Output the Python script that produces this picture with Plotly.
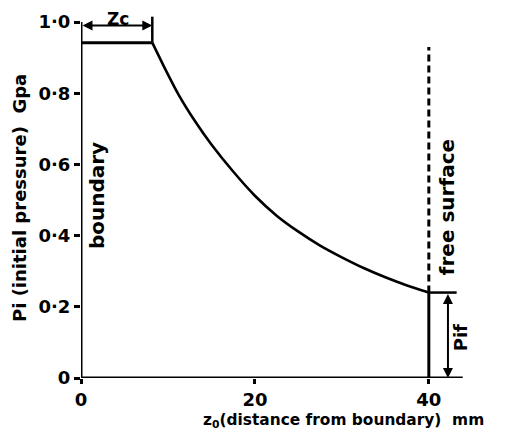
import plotly.graph_objects as go

# ---- data ----
zc = 8.2            # Zc, end of constant-pressure zone (mm)
p_flat = 0.942      # plateau pressure (GPa)
z_curve = [8.2, 9.6, 11.2, 13.1, 15.0, 17.5, 20.0, 22.5, 25.0, 27.5, 30.0,
           32.5, 35.0, 37.5, 40.0]
p_curve = [0.942, 0.872, 0.797, 0.722, 0.656, 0.580, 0.512, 0.456, 0.411, 0.372, 0.339,
           0.309, 0.283, 0.260, 0.240]
z_free = 40.0       # free surface position (mm)
p_if = 0.240        # Pif
free_top = 0.93     # top of dashed free-surface line
x_ticks = [0, 20, 40]
x_ticklabels = ["0", "20", "40"]
y_ticks = [0, 0.2, 0.4, 0.6, 0.8, 1.0]
y_ticklabels = ["0", "0·2", "0·4", "0·6", "0·8", "1·0"]

FONT = "DejaVu Sans"
K = "black"
XR = [0, 46]
YR = [0, 370 / 356]


def px(x):
    return (x - XR[0]) / (XR[1] - XR[0])


def py(y):
    return (y - YR[0]) / (YR[1] - YR[0])


fig = go.Figure()
fig.add_trace(go.Scatter(x=[0, zc], y=[p_flat, p_flat], mode="lines",
                         line=dict(color=K, width=3), hoverinfo="skip"))
fig.add_trace(go.Scatter(x=z_curve, y=p_curve, mode="lines",
                         line=dict(color=K, width=2.6, shape="spline", smoothing=0.6),
                         hoverinfo="skip"))
fig.add_trace(go.Scatter(x=[z_free, z_free], y=[0, p_if], mode="lines",
                         line=dict(color=K, width=3), hoverinfo="skip"))
fig.add_trace(go.Scatter(x=[z_free, z_free], y=[p_if, free_top], mode="lines",
                         line=dict(color=K, width=3, dash="7px,4px"), hoverinfo="skip"))

shapes = [
    dict(type="line", xref="x", yref="y", x0=0, x1=43.9, y0=0, y1=0,
         line=dict(color=K, width=3)),
    dict(type="line", xref="x", yref="y", x0=0, x1=0, y0=0, y1=1.0,
         line=dict(color=K, width=3)),
    dict(type="line", xref="x", yref="y", x0=zc, x1=zc, y0=p_flat, y1=1.015,
         line=dict(color=K, width=2.5)),
    dict(type="line", xref="x", yref="y", x0=z_free, x1=43.2, y0=p_if, y1=p_if,
         line=dict(color=K, width=2.5)),
]

tf = dict(family=FONT, size=18, color=K, weight="bold")
lf = dict(family=FONT, size=20, color=K, weight="bold")
C = dict(xanchor="center", yanchor="middle", showarrow=False,
         xref="paper", yref="paper")
annotations = [
    dict(x=zc, y=0.99, ax=0, ay=0.99, xref="x", yref="y", axref="x", ayref="y",
         showarrow=True, arrowhead=2, startarrowhead=2, arrowside="end+start",
         arrowwidth=2, arrowsize=1, arrowcolor=K, text=""),
    dict(x=px(4.2), y=1.0, text="Zc", xanchor="center", yanchor="top",
         showarrow=False, xref="paper", yref="paper", borderpad=0,
         font=dict(family=FONT, size=17, color=K, weight="bold")),
    dict(x=42.2, y=0, ax=42.2, ay=p_if, xref="x", yref="y", axref="x", ayref="y",
         showarrow=True, arrowhead=2, startarrowhead=2, arrowside="end+start",
         arrowwidth=2, arrowsize=1, arrowcolor=K, text=""),
    dict(x=px(43.6), y=py(0.112), text="Pif", textangle=-90, font=tf, **C),
    dict(x=px(1.84), y=py(0.511), text="boundary", textangle=-90, font=lf, **C),
    dict(x=px(42.1), y=py(0.48), text="free surface", textangle=-90, font=lf, **C),
    dict(x=px(-7.0), y=py(0.506), text="Pi (initial pressure)  Gpa", textangle=-90,
         font=dict(family=FONT, size=18, color=K, weight="bold"), **C),
    dict(x=px(30.2), y=py(-0.122), text="z<sub>0</sub>(distance from boundary)  mm",
         font=dict(family=FONT, size=15.4, color=K, weight="bold"), **C),
]

fig.update_layout(
    width=497, height=431,
    margin=dict(l=73, r=24, t=0, b=61, pad=0),
    paper_bgcolor="white", plot_bgcolor="white",
    showlegend=False,
    shapes=shapes, annotations=annotations,
    xaxis=dict(range=XR, tickvals=x_ticks, ticktext=x_ticklabels,
               ticks="outside", ticklen=5, tickwidth=2.5, tickcolor=K,
               showgrid=False, zeroline=False, showline=False, automargin=False,
               tickfont=dict(family=FONT, size=18, color=K, weight="bold")),
    yaxis=dict(range=YR, tickvals=y_ticks, ticktext=y_ticklabels,
               ticks="outside", ticklen=6, tickwidth=2.5, tickcolor=K,
               showgrid=False, zeroline=False, showline=False, automargin=False,
               tickfont=dict(family=FONT, size=18, color=K, weight="bold")),
)

fig.write_html("out.html")
